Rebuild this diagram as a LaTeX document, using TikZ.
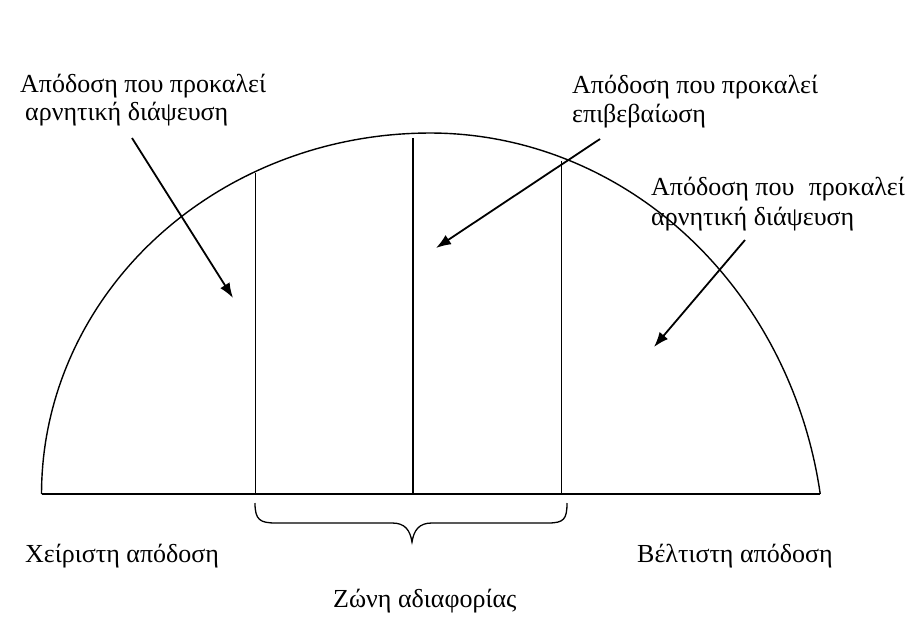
\documentclass[tikz,border=0pt]{standalone}
\usepackage{fontspec}
\setmainfont{Liberation Serif}
\usetikzlibrary{arrows.meta}
\begin{document}
\begin{tikzpicture}[x=1pt,y=-1pt,
  lbl/.style={anchor=base west,inner sep=0pt,font=\fontsize{26}{30}\selectfont},
  thinline/.style={line width=1pt},
  midline/.style={line width=1.8pt},
  arr/.style={line width=1.8pt,-{Latex[length=15pt,width=11pt]}},
  archline/.style={line width=1.4pt}]
\useasboundingbox (0,0) rectangle (922,624);
% arch: left and right quarter curves
\draw[archline] plot[domain=180:90,samples=80] ({430+388.5*cos(\x)},{494-361*sin(\x)})
  -- plot[domain=90:8.89,samples=80] ({430+395*cos(\x)},{560-427*sin(\x)});
% baseline
\coordinate (bl) at (42,494);
\coordinate (br) at (820,494);
\draw[line width=1.5pt] (bl) -- (br);
% vertical lines
\coordinate (v1t) at (255,173); \coordinate (v1b) at (255,494);
\coordinate (v2t) at (413,138); \coordinate (v2b) at (413,494);
\coordinate (v3t) at (561,161); \coordinate (v3b) at (561,494);
\draw[thinline] (v1t) -- (v1b);
\draw[midline] (v2t) -- (v2b);
\draw[thinline] (v3t) -- (v3b);
% brace
\coordinate (brl) at (255,503);
\coordinate (brtip) at (412,542);
\coordinate (brr) at (567,503);
\draw[line width=1.3pt] (brl) .. controls (255,520) and (260,523) .. (276,523) -- (392,523) .. controls (405,523) and (410,530) .. (brtip) .. controls (414,530) and (419,523) .. (432,523) -- (548,523) .. controls (564,523) and (567,519) .. (brr);
% labels
\node[lbl] (tl1) at (20,92) {Απόδοση που προκαλεί};
\node[lbl] (tl2) at (25,120) {αρνητική διάψευση};
\node[lbl] (tm1) at (572,93) {Απόδοση που προκαλεί};
\node[lbl] (tm2) at (572,122) {επιβεβαίωση};
\node[lbl] (tr1) at (651,195) {Απόδοση που\hspace{0.3em} προκαλεί};
\node[lbl] (tr2) at (651,225) {αρνητική διάψευση};
\node[lbl] (bl1) at (25,562) {Χείριστη απόδοση};
\node[lbl] (br1) at (637,562) {Βέλτιστη απόδοση};
\node[lbl] (bm1) at (333,607) {Ζώνη αδιαφορίας};
% arrows
\coordinate (a1s) at (132,138); \coordinate (a1e) at (233,298);
\coordinate (a2s) at (600,139); \coordinate (a2e) at (436,248);
\coordinate (a3s) at (745,240); \coordinate (a3e) at (654,347);
\draw[arr] (a1s) -- (a1e);
\draw[arr] (a2s) -- (a2e);
\draw[arr] (a3s) -- (a3e);
\end{tikzpicture}
\end{document}
